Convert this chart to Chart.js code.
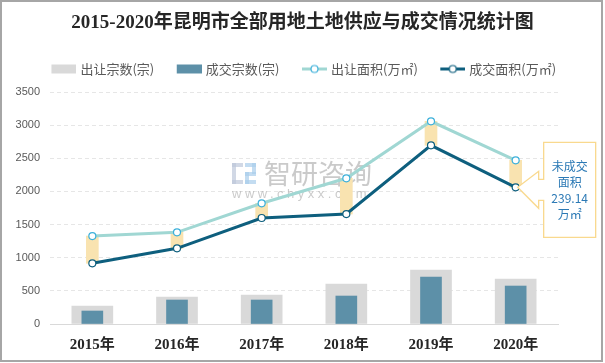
<!DOCTYPE html>
<html><head><meta charset="utf-8">
<script src="https://cdn.jsdelivr.net/npm/chart.js@4.4.1/dist/chart.umd.min.js"></script>
<style>html,body{margin:0;padding:0;background:#fff;}canvas{display:block;}</style>
</head><body>
<canvas id="c" width="605" height="363"></canvas>
<script>
const titleText = '2015-2020年昆明市全部用地土地供应与成交情况统计图';
const categories = ['2015年','2016年','2017年','2018年','2019年','2020年'];
const supplyCount = [272, 407, 437, 603, 815, 679];     // 出让宗数(宗)
const dealCount   = [196, 362, 362, 422, 709, 573];     // 成交宗数(宗)
const supplyArea  = [1327, 1383, 1821, 2198, 3058, 2469]; // 出让面积(万㎡)
const dealArea    = [916, 1142, 1599, 1659, 2696, 2062];  // 成交面积(万㎡)
const yTicks = [0, 500, 1000, 1500, 2000, 2500, 3000, 3500];
const seriesNames = ['出让宗数(宗)', '成交宗数(宗)', '出让面积(万㎡)', '成交面积(万㎡)'];
const calloutLines = ['未成交', '面积', '239.14', '万㎡'];

const gapRanges = categories.map((_, i) => [dealArea[i], supplyArea[i]]);

const CJK = "'Noto Sans CJK SC','Noto Sans',sans-serif";
const SERIF = "'Liberation Serif','Noto Sans CJK SC',serif";

function barIcon(color) {
  const c = document.createElement('canvas'); c.width = 30; c.height = 11;
  const g = c.getContext('2d'); g.fillStyle = color; g.fillRect(5, 1, 25, 9);
  return c;
}
function lineIcon(color, ptColor) {
  const c = document.createElement('canvas'); c.width = 30; c.height = 11;
  const g = c.getContext('2d');
  g.strokeStyle = color; g.lineWidth = 3; g.beginPath(); g.moveTo(5, 5.5); g.lineTo(30, 5.5); g.stroke();
  g.fillStyle = '#fff'; g.strokeStyle = ptColor; g.lineWidth = 1.2;
  g.beginPath(); g.arc(17.5, 5.5, 3.5, 0, Math.PI * 2); g.fill(); g.stroke();
  return c;
}
const icons = [barIcon('#d9d9d9'), barIcon('#5d90a8'), lineIcon('#a0d7d3', '#3cb0da'), lineIcon('#0e5f7e', '#0e5f7e')];

const pagePlugin = {
  id: 'page',
  beforeDraw(chart) {
    const ctx = chart.ctx; ctx.save(); ctx.fillStyle = '#fff'; ctx.fillRect(0, 0, chart.width, chart.height); ctx.restore();
  },
  afterDraw(chart) {
    const ctx = chart.ctx; ctx.save(); ctx.strokeStyle = '#a6a6a6'; ctx.lineWidth = 2;
    ctx.strokeRect(1, 1, 601, 360); ctx.restore();
  }
};

const watermarkPlugin = {
  id: 'watermark',
  beforeDatasetsDraw(chart) {
    const ctx = chart.ctx; const a = chart.chartArea;
    const x0 = a.left + 182, y0 = a.top + 71;
    ctx.save();
    ctx.fillStyle = 'rgba(190,200,218,0.7)';
    ctx.fillRect(x0, y0, 11, 4); ctx.fillRect(x0, y0, 4, 21); ctx.fillRect(x0, y0 + 17, 11, 4);
    ctx.fillStyle = 'rgba(170,205,235,0.7)';
    ctx.fillRect(x0 + 13, y0, 11, 4); ctx.fillRect(x0 + 20, y0, 4, 11); ctx.fillRect(x0 + 13, y0 + 9, 11, 4);
    ctx.fillRect(x0 + 13, y0 + 9, 4, 12); ctx.fillRect(x0 + 13, y0 + 17, 11, 4);
    ctx.fillStyle = 'rgba(150,150,150,0.5)';
    ctx.font = "27px " + CJK; ctx.textBaseline = 'middle'; ctx.textAlign = 'left';
    ctx.fillText('智研咨询', x0 + 32, y0 + 11);
    ctx.fillStyle = 'rgba(160,160,160,0.55)';
    ctx.font = "13px 'Liberation Sans',sans-serif";
    try { ctx.letterSpacing = '3.5px'; } catch (e) {}
    ctx.fillText('www.chyxx.com', x0, y0 + 31);
    ctx.restore();
  }
};

const calloutPlugin = {
  id: 'callout',
  afterDatasetsDraw(chart) {
    const ctx = chart.ctx;
    const xs = chart.scales.x, ys = chart.scales.y;
    const i = categories.length - 1;
    const px = xs.getPixelForValue(i);
    const py = ys.getPixelForValue(dealArea[i]);
    const L = px + 28, R = px + 80, T = py - 45, B = py + 50;
    ctx.save();
    ctx.beginPath();
    ctx.moveTo(L, T); ctx.lineTo(R, T); ctx.lineTo(R, B); ctx.lineTo(L, B);
    ctx.lineTo(L, py + 13); ctx.lineTo(L - 5, py + 13); ctx.lineTo(L - 5, py + 21);
    ctx.lineTo(px + 2, py);
    ctx.lineTo(L - 5, py - 16); ctx.lineTo(L - 5, py - 8); ctx.lineTo(L, py - 8);
    ctx.closePath();
    ctx.fillStyle = '#fff'; ctx.fill();
    ctx.strokeStyle = '#f9d98e'; ctx.lineWidth = 1.3; ctx.stroke();
    ctx.fillStyle = '#2b79b5'; ctx.font = "12px " + CJK; ctx.textAlign = 'center'; ctx.textBaseline = 'middle';
    const cx = (L + R) / 2;
    calloutLines.forEach((t, k) => ctx.fillText(t, cx, py - 21 + k * 16));
    ctx.restore();
  }
};

new Chart(document.getElementById('c'), {
  type: 'bar',
  data: {
    labels: categories,
    datasets: [
      { type: 'bar', label: seriesNames[0], data: supplyCount, backgroundColor: '#d9d9d9', barThickness: 41, grouped: false, order: 5 },
      { type: 'bar', label: seriesNames[1], data: dealCount, backgroundColor: '#5d90a8', barThickness: 21, grouped: false, order: 4 },
      { type: 'line', label: seriesNames[2], data: supplyArea, borderColor: '#a0d7d3', borderWidth: 3, tension: 0,
        pointRadius: 3.5, pointBackgroundColor: '#fff', pointBorderColor: '#3cb0da', pointBorderWidth: 1.2, order: 2 },
      { type: 'line', label: seriesNames[3], data: dealArea, borderColor: '#0e5f7e', borderWidth: 3, tension: 0,
        pointRadius: 3.5, pointBackgroundColor: '#fff', pointBorderColor: '#0e5f7e', pointBorderWidth: 1.2, order: 1 },
      { type: 'bar', label: '未成交面积', data: gapRanges, backgroundColor: '#f9e3b0', barThickness: 12, grouped: false, order: 3 }
    ]
  },
  options: {
    responsive: false,
    animation: false,
    devicePixelRatio: 1,
    layout: { padding: 0 },
    plugins: {
      title: { display: true, text: titleText, color: '#262626',
        font: { family: SERIF, size: 19, weight: 'bold', lineHeight: 1.2 }, padding: { top: 11.6, bottom: 8.1 } },
      subtitle: { display: true, text: '', weight: 500, font: { size: 1, lineHeight: 1 }, padding: { top: 5.5, bottom: 0 } },
      legend: {
        display: true, position: 'top',
        labels: {
          usePointStyle: true, pointStyleWidth: 25, boxHeight: 9, padding: 20, color: '#595959',
          font: { family: CJK, size: 13 },
          generateLabels(chart) {
            return seriesNames.map((t, k) => ({ text: t, pointStyle: icons[k], datasetIndex: k, hidden: false,
              lineWidth: 0, fillStyle: 'rgba(0,0,0,0)', strokeStyle: 'rgba(0,0,0,0)', fontColor: '#595959' }));
          }
        }
      },
      tooltip: { enabled: false }
    },
    scales: {
      x: {
        type: 'category', offset: true,
        grid: { display: false, drawTicks: false },
        border: { display: true, color: '#d9d9d9', width: 1 },
        ticks: { color: '#262626', font: { family: SERIF, size: 15, weight: 'bold' }, padding: 12, maxRotation: 0 },
        afterFit(s) { s.height = 39; }
      },
      y: {
        type: 'linear', position: 'left', min: 0, max: 3500,
        afterBuildTicks(s) { s.ticks = yTicks.map(v => ({ value: v })); },
        grid: { drawTicks: false, color: (c) => c.tick && c.tick.value === 0 ? 'rgba(0,0,0,0)' : '#e6e6e6', lineWidth: 1 },
        border: { display: false, dash: [4, 3] },
        ticks: { color: '#595959', font: { family: "'Liberation Sans',sans-serif", size: 11 }, padding: 10,
          callback: (v) => String(v) },
        afterFit(s) { s.width = 50; }
      },
      y2: {
        type: 'linear', position: 'right', display: true,
        grid: { display: false, drawTicks: false }, border: { display: false },
        ticks: { display: false },
        afterFit(s) { s.width = 47; }
      }
    }
  },
  plugins: [pagePlugin, watermarkPlugin, calloutPlugin]
});
</script>
</body></html>
